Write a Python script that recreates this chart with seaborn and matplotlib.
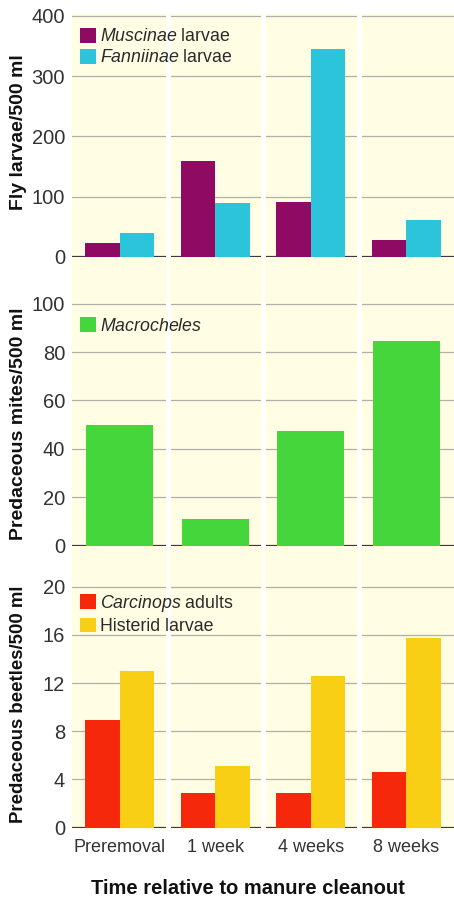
import matplotlib
matplotlib.use("Agg")
import matplotlib.pyplot as plt
from matplotlib.patches import Rectangle, Patch
from matplotlib.lines import Line2D
import seaborn as sns
import pandas as pd

# values
times = ["Preremoval", "1 week", "4 weeks", "8 weeks"]
muscinae = [24, 160, 91, 29]
fanniinae = [39, 89, 345, 62]
macrocheles = [50, 11, 47.5, 84.5]
carcinops = [8.9, 2.85, 2.9, 4.6]
histerid = [13.0, 5.1, 12.6, 15.7]

purple = "#8e0a63"
cyan = "#2cc4da"
green = "#44d63a"
red = "#f5280c"
yellow = "#f8cf14"
cream = "#fffde4"

sns.set_style("white")
plt.rcParams['font.family'] = ['Liberation Sans', 'DejaVu Sans']
plt.rcParams['mathtext.fontset'] = 'custom'
plt.rcParams['mathtext.rm'] = 'Liberation Sans'
plt.rcParams['mathtext.it'] = 'Liberation Sans:italic'

W, H = 454, 900
fig = plt.figure(figsize=(W / 100, H / 100), dpi=100)

left, right = 72, 454


def box(top, bottom):
    return [left / W, 1 - bottom / H, (right - left) / W, (bottom - top) / H]


# cream background behind the three panels
fig.patches.append(Rectangle((left / W, 1 - 828 / H), (right - left) / W, (828 - 14) / H,
                             transform=fig.transFigure, color=cream, zorder=-2))
for k in [0.5, 1.5, 2.5]:
    xp = left + (right - left) * (k + 0.5) / 4
    fig.add_artist(Line2D([xp / W, xp / W], [1 - 828 / H, 1 - 14 / H], transform=fig.transFigure,
                          color="white", lw=1.8, zorder=-1))

ax1 = fig.add_axes(box(15, 257))
ax2 = fig.add_axes(box(302.7, 545.7))
ax3 = fig.add_axes(box(585.7, 827.7))

fly = pd.DataFrame({"time": times * 2,
                    "value": muscinae + fanniinae,
                    "kind": ["Muscinae"] * 4 + ["Fanniinae"] * 4})
mites = pd.DataFrame({"time": times, "value": macrocheles})
beetles = pd.DataFrame({"time": times * 2,
                        "value": carcinops + histerid,
                        "kind": ["Carcinops"] * 4 + ["Histerid"] * 4})

sns.barplot(data=fly, x="time", y="value", hue="kind", palette=[purple, cyan],
            saturation=1, width=0.72, ax=ax1, zorder=3, linewidth=0)
sns.barplot(data=mites, x="time", y="value", color=green,
            saturation=1, width=0.7, ax=ax2, zorder=3, linewidth=0)
sns.barplot(data=beetles, x="time", y="value", hue="kind", palette=[red, yellow],
            saturation=1, width=0.72, ax=ax3, zorder=3, linewidth=0)

setup = [
    (ax1, 400, [0, 100, 200, 300, 400], "Fly larvae/500 ml", 14, 0.516, 0.947,
     [(purple, r"$\it{Muscinae}$ larvae"), (cyan, r"$\it{Fanniinae}$ larvae")]),
    (ax2, 100, [0, 20, 40, 60, 80, 100], "Predaceous mites/500 ml", 14, 0.5, 0.941,
     [(green, r"$\it{Macrocheles}$")]),
    (ax3, 20, [0, 4, 8, 12, 16, 20], "Predaceous beetles/500 ml", 13.4, 0.51, 0.97,
     [(red, r"$\it{Carcinops}$ adults"), (yellow, "Histerid larvae")]),
]

for ax, top, ticks, label, lsize, ly, legy, leg in setup:
    ax.set_facecolor("none")
    ax.set_xlim(-0.5, 3.5)
    ax.set_ylim(0, top * 1.004)
    ax.set_yticks(ticks)
    ax.set_yticklabels([str(t) for t in ticks])
    for s in ax.spines.values():
        s.set_visible(False)
    ax.tick_params(axis="y", length=0, labelsize=14.5, labelcolor="#333333", pad=5)
    ax.tick_params(axis="x", length=0, labelsize=13, labelcolor="#333333")
    ax.grid(axis="y", color="#b0b0a8", lw=0.9)
    ax.set_axisbelow(True)
    ax.axhline(0, color="#3a3a3a", lw=1.6, zorder=2)
    for k in [0.5, 1.5, 2.5]:
        ax.axvline(k, color="white", lw=3.5, zorder=2.5)
    ax.set_ylabel(label, fontsize=lsize, fontweight="bold", color="#111111")
    ax.yaxis.set_label_coords(-0.118, ly)
    ax.set_xlabel("")
    old = ax.get_legend()
    if old is not None:
        old.remove()
    handles = [Patch(facecolor=c, edgecolor="none") for c, _ in leg]
    ax.legend(handles, [t for _, t in leg], loc="upper left", bbox_to_anchor=(0.022, legy),
              frameon=False, fontsize=12.8, handlelength=0.9, handleheight=0.9,
              handletextpad=0.2, labelspacing=0.2, borderpad=0, borderaxespad=0,
              labelcolor="#2a2a2a")

ax1.set_xticklabels([])
ax2.set_xticklabels([])
ax3.tick_params(axis="x", pad=8)

fig.text(248 / W, 1 - 888 / H, "Time relative to manure cleanout", ha="center", va="center",
         fontsize=14.5, fontweight="bold", color="#111111")

fig.savefig("out.png", dpi=100)
